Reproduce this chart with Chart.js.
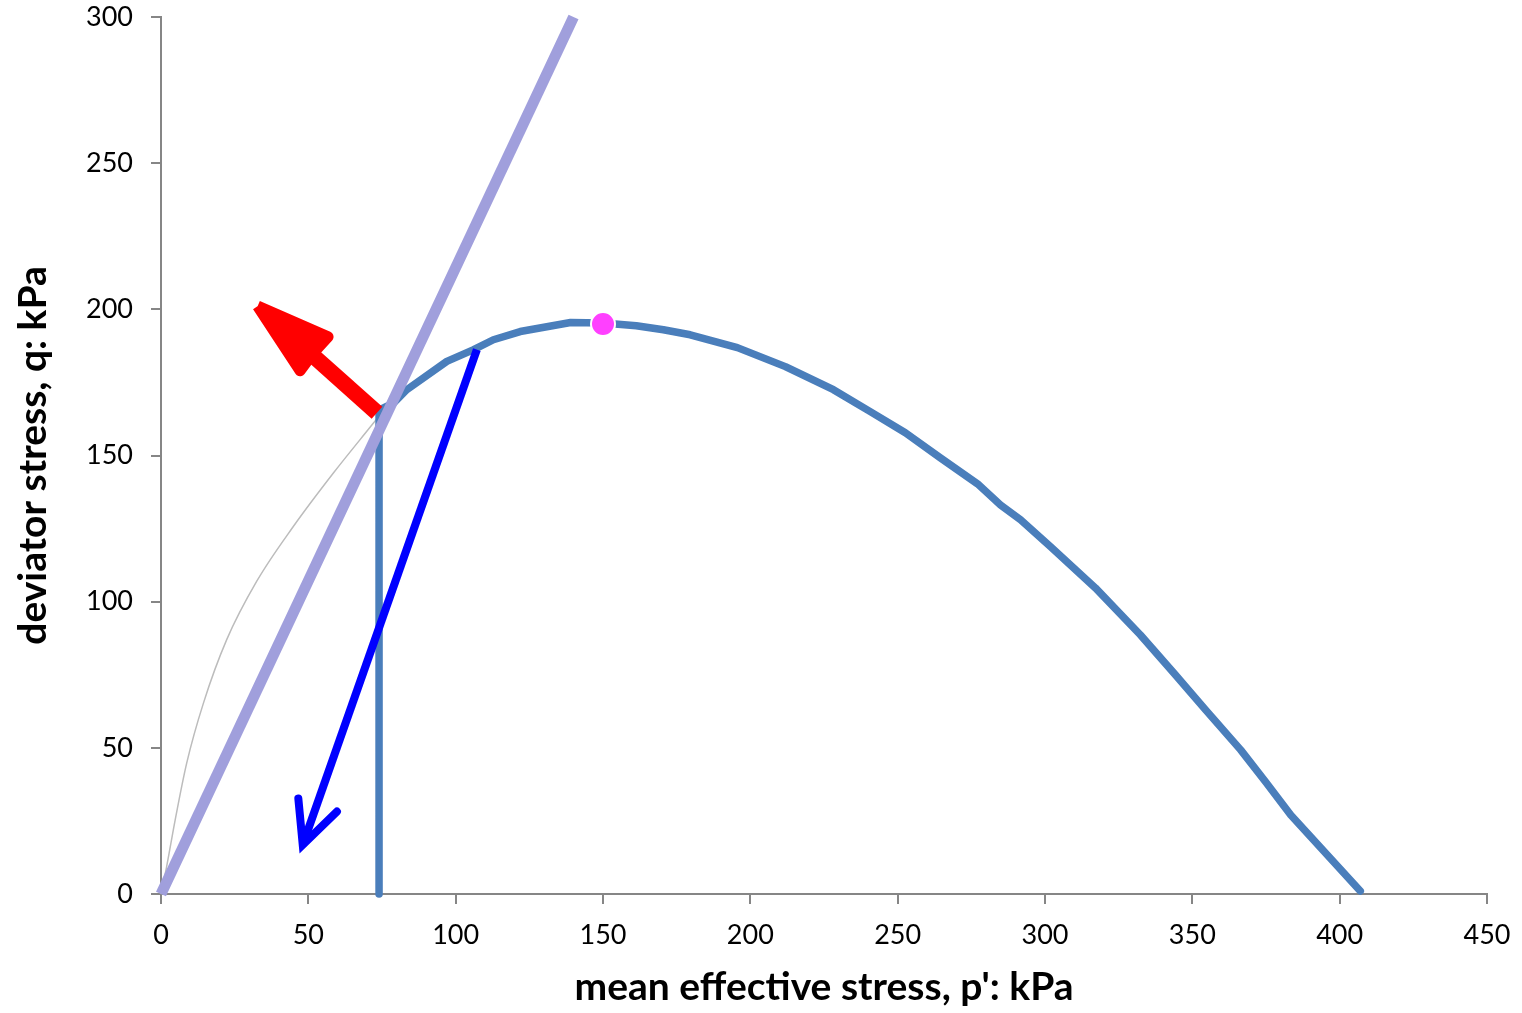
<!DOCTYPE html>
<html>
<head>
<meta charset="utf-8">
<script src="https://cdn.jsdelivr.net/npm/chart.js@4.4.0/dist/chart.umd.min.js"></script>
<style>
  body { margin: 0; background: #fff; }
  #wrap { width: 1522px; height: 1013px; }
</style>
</head>
<body>
<div id="wrap"><canvas id="chart" width="1522" height="1013"></canvas></div>
<script>
// stress path (p', q) in kPa
const pathP = [74, 74, 79, 83.4, 97, 106.1, 112.8, 121.9, 139, 150, 161.3, 170.5, 179.6, 195.6, 211.9, 228.2, 240.7, 252.6, 264.5, 277.1, 284.9, 291.7, 301.9, 317.1, 332.4, 344.3, 354.5, 366.4, 374.9, 383.4, 407];
const pathQ = [0, 165.5, 168, 172.5, 182.2, 186.2, 189.6, 192.4, 195.5, 195.3, 194.4, 193, 191.3, 186.9, 180.4, 172.5, 165, 157.8, 149.2, 140.3, 133.1, 128, 118.8, 104.7, 88.6, 74.9, 63, 49.3, 38.3, 27, 1];

// thin grey drained path
const greyP = [0, 1.9, 4.8, 8.7, 14.4, 22.3, 32.5, 44.9, 58.5, 72.1, 74];
const greyQ = [0, 9.3, 25.3, 44.7, 65.3, 87.0, 107.0, 125.7, 144.0, 161.1, 163.5];

// critical state line
const cslP = [0, 140];
const cslQ = [0, 300];

// peak point
const peakP = [150];
const peakQ = [195];

// red arrow (shaft + head)
const redShaftP = [73.3, 51.2];
const redShaftQ = [164.6, 184.5];
const redHeadP = [32.8, 56.7, 51.2, 47.2, 32.8];
const redHeadQ = [201.1, 190.6, 184.5, 179.0, 201.1];

// blue arrow (shaft + open head)
const blueShaftP = [107.2, 48.1];
const blueShaftQ = [186.2, 16.8];
const blueHeadP = [46.6, 48.1, 59.7];
const blueHeadQ = [32.7, 16.8, 28.2];

const xTicks = [0, 50, 100, 150, 200, 250, 300, 350, 400, 450];
const yTicks = [0, 50, 100, 150, 200, 250, 300];

const pts = (xs, ys) => xs.map((x, i) => ({ x: x, y: ys[i] }));

const axisGrey = '#868686';

new Chart(document.getElementById('chart'), {
  type: 'scatter',
  data: {
    datasets: [
      {
        data: pts(peakP, peakQ),
        pointRadius: 12,
        pointBackgroundColor: '#ff40ff',
        pointBorderColor: '#ffffff',
        pointBorderWidth: 2,
        showLine: false,
        order: 0
      },
      {
        data: pts(cslP, cslQ),
        showLine: true,
        borderColor: '#a09fdc',
        borderWidth: 11,
        pointRadius: 0,
        order: 1
      },
      {
        data: pts(blueShaftP, blueShaftQ),
        showLine: true,
        borderColor: '#0000ff',
        borderWidth: 8,
        pointRadius: 0,
        order: 2
      },
      {
        data: pts(blueHeadP, blueHeadQ),
        showLine: true,
        borderColor: '#0000ff',
        borderWidth: 8,
        borderCapStyle: 'round',
        borderJoinStyle: 'miter',
        pointRadius: 0,
        order: 2
      },
      {
        data: pts(redShaftP, redShaftQ),
        showLine: true,
        borderColor: '#ff0000',
        borderWidth: 16,
        pointRadius: 0,
        order: 3
      },
      {
        data: pts(redHeadP, redHeadQ),
        showLine: true,
        borderColor: '#ff0000',
        backgroundColor: '#ff0000',
        borderWidth: 11,
        borderJoinStyle: 'round',
        fill: 'shape',
        pointRadius: 0,
        order: 3
      },
      {
        data: pts(pathP, pathQ),
        showLine: true,
        borderColor: '#4a7ebb',
        borderWidth: 7.5,
        borderCapStyle: 'round',
        borderJoinStyle: 'round',
        pointRadius: 0,
        order: 4
      },
      {
        data: pts(greyP, greyQ),
        showLine: true,
        borderColor: '#bcbcbc',
        borderWidth: 1.5,
        cubicInterpolationMode: 'monotone',
        pointRadius: 0,
        order: 5
      }
    ]
  },
  options: {
    responsive: false,
    animation: false,
    clip: false,
    layout: { padding: { top: 17, right: 35, left: 0, bottom: 0 } },
    plugins: {
      legend: { display: false },
      tooltip: { enabled: false }
    },
    scales: {
      x: {
        type: 'linear',
        min: 0,
        max: 450,
        afterBuildTicks: (s) => { s.ticks = xTicks.map(v => ({ value: v })); },
        afterFit: (s) => { s.height = 119; s.paddingRight = 0; s.paddingLeft = 0; },
        border: { color: axisGrey, width: 2 },
        grid: { drawOnChartArea: false, drawTicks: true, tickLength: 10, color: axisGrey, lineWidth: 2 },
        ticks: { color: '#000', font: { family: 'Lato', size: 27 }, padding: 15, maxRotation: 0 },
        title: {
          display: true,
          text: "mean effective stress, p': kPa",
          color: '#000',
          font: { family: 'Lato', size: 39, weight: 'bold' },
          padding: { top: 0, bottom: 2 }
        }
      },
      y: {
        type: 'linear',
        min: 0,
        max: 300,
        afterBuildTicks: (s) => { s.ticks = yTicks.map(v => ({ value: v })); },
        afterFit: (s) => { s.width = 161; s.paddingTop = 0; },
        border: { color: axisGrey, width: 2 },
        grid: { drawOnChartArea: false, drawTicks: true, tickLength: 10, color: axisGrey, lineWidth: 2 },
        ticks: { color: '#000', font: { family: 'Lato', size: 27 }, padding: 18 },
        title: {
          display: true,
          text: 'deviator stress, q: kPa',
          color: '#000',
          font: { family: 'Lato', size: 39, weight: 'bold' },
          padding: { top: 10, bottom: 0 }
        }
      }
    }
  }
});
</script>
</body>
</html>
